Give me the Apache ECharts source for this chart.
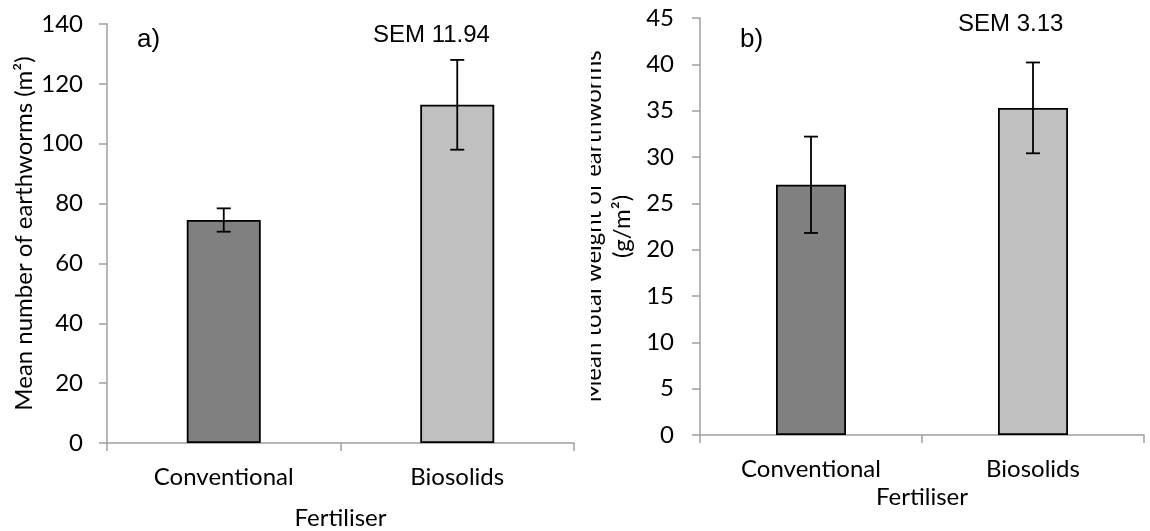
<!DOCTYPE html>
<html>
<head>
<meta charset="utf-8">
<script src="https://cdn.jsdelivr.net/npm/echarts@6/dist/echarts.min.js"></script>
<style>
html,body{margin:0;padding:0;background:#fff;width:1150px;height:531px;overflow:hidden;position:relative;}
#a{position:absolute;left:0;top:0;width:580px;height:531px;}
#b{position:absolute;left:591px;top:0;width:559px;height:531px;}
</style>
</head>
<body>
<div id="a"></div>
<div id="b"></div>
<script>
var categories = ['Conventional', 'Biosolids'];
var numberMeans = [74.5, 113];
var numberErr = [3.9, 15];
var weightMeans = [27, 35.3];
var weightErr = [5.2, 4.9];
var numberTicks = {min: 0, max: 140, interval: 20};
var weightTicks = {min: 0, max: 45, interval: 5};
var barColors = ['#808080', '#c0c0c0'];

var AX = '#a0a0a0';
var FONT = 'Lato';

function errData(means, errs) {
  return means.map(function (m, i) { return [i, m, errs[i]]; });
}

function errRender(params, api) {
  var x = api.value(0), m = api.value(1), e = api.value(2);
  var top = api.coord([x, m + e]);
  var bot = api.coord([x, m - e]);
  var hw = 7;
  var st = {stroke: '#000', lineWidth: 1.8};
  return {
    type: 'group',
    children: [
      {type: 'line', shape: {x1: top[0], y1: top[1], x2: bot[0], y2: bot[1]}, style: st},
      {type: 'line', shape: {x1: top[0] - hw, y1: top[1], x2: top[0] + hw, y2: top[1]}, style: st},
      {type: 'line', shape: {x1: bot[0] - hw, y1: bot[1], x2: bot[0] + hw, y2: bot[1]}, style: st}
    ]
  };
}

function makeOption(cfg) {
  var grid = Object.assign({containLabel: false, outerBoundsMode: 'none'}, cfg.grid);
  return {
    animation: false,
    textStyle: {fontFamily: FONT},
    grid: grid,
    xAxis: {
      type: 'category',
      data: categories,
      boundaryGap: true,
      axisLine: {show: true, lineStyle: {color: AX, width: 1.5}},
      axisTick: {show: true, length: 8, alignWithLabel: false, interval: 0, lineStyle: {color: AX, width: 1.5}},
      axisLabel: {color: '#000', fontSize: 24, fontFamily: FONT, margin: cfg.xLabelMargin, interval: 0},
      name: 'Fertiliser',
      nameLocation: 'middle',
      nameGap: cfg.xNameGap,
      nameMoveOverlap: false,
      nameTextStyle: {color: '#000', fontSize: 24, fontFamily: FONT},
      splitLine: {show: false}
    },
    yAxis: {
      type: 'value',
      min: cfg.ticks.min, max: cfg.ticks.max, interval: cfg.ticks.interval,
      axisLine: {show: true, lineStyle: {color: AX, width: 1.5}},
      axisTick: {show: true, length: 8, lineStyle: {color: AX, width: 1.5}},
      axisLabel: {color: '#000', fontSize: 24, fontFamily: FONT, margin: cfg.yLabelMargin},
      splitLine: {show: false},
      name: cfg.yName,
      nameLocation: 'middle',
      nameRotate: 90,
      nameGap: cfg.yNameGap,
      nameMoveOverlap: false,
      nameTextStyle: {color: '#000', fontSize: 24, fontFamily: FONT, lineHeight: 29, align: 'center'}
    },
    graphic: [
      {type: 'text', left: cfg.tagLeft, top: cfg.tagTop, style: {text: cfg.tag, font: '26px "Liberation Sans"', fill: '#000'}},
      {type: 'text', left: cfg.semLeft, top: cfg.semTop, style: {text: cfg.sem, font: '24px "Liberation Sans"', fill: '#000'}}
    ],
    series: [
      {
        type: 'bar',
        barWidth: cfg.barWidth,
        data: cfg.means.map(function (v, i) {
          return {value: v, itemStyle: {color: barColors[i]}};
        }),
        itemStyle: {borderColor: '#000', borderWidth: 1.8},
        z: 2
      },
      {
        type: 'custom',
        renderItem: errRender,
        data: errData(cfg.means, cfg.errs),
        encode: {x: 0, y: 1},
        z: 5
      }
    ]
  };
}

var chartA = echarts.init(document.getElementById('a'));
chartA.setOption(makeOption({
  grid: {left: 107, right: 6, top: 24, bottom: 88},
  ticks: numberTicks,
  means: numberMeans,
  errs: numberErr,
  barWidth: 74,
  xLabelMargin: 22,
  xNameGap: 63,
  yLabelMargin: 24,
  yName: 'Mean number of earthworms (m\u00b2)',
  yNameGap: 68,
  tag: 'a)', tagLeft: 137, tagTop: 27,
  sem: 'SEM 11.94', semLeft: 373, semTop: 23
}));

var chartB = echarts.init(document.getElementById('b'));
chartB.setOption(makeOption({
  grid: {left: 109, right: 6, top: 18, bottom: 96},
  ticks: weightTicks,
  means: weightMeans,
  errs: weightErr,
  barWidth: 70,
  xLabelMargin: 22,
  xNameGap: 50,
  yLabelMargin: 26,
  yName: 'Mean total weight of earthworms\n(g/m\u00b2)',
  yNameGap: 63,
  tag: 'b)', tagLeft: 149, tagTop: 27,
  sem: 'SEM 3.13', semLeft: 367, semTop: 12
}));
</script>
</body>
</html>
